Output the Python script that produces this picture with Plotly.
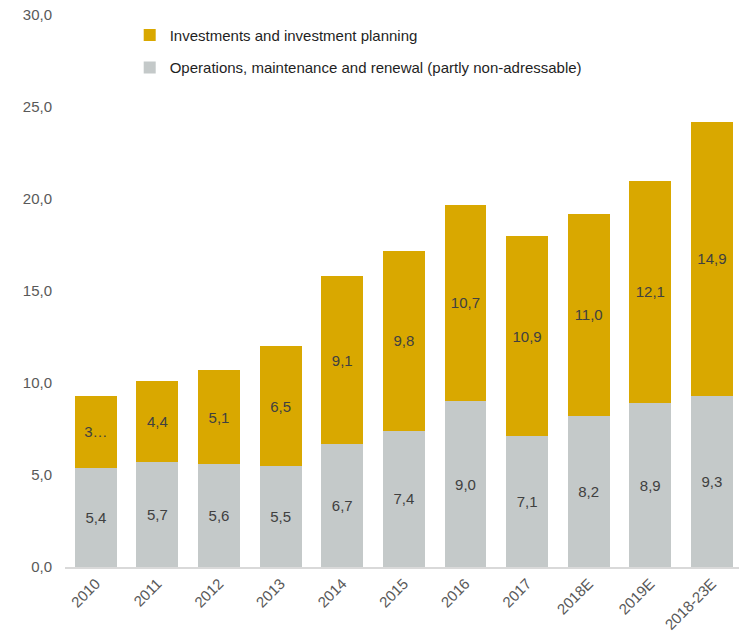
import plotly.graph_objects as go

categories = ["2010", "2011", "2012", "2013", "2014", "2015", "2016", "2017", "2018E", "2019E", "2018-23E"]
operations = [5.4, 5.7, 5.6, 5.5, 6.7, 7.4, 9.0, 7.1, 8.2, 8.9, 9.3]
investments = [3.9, 4.4, 5.1, 6.5, 9.1, 9.8, 10.7, 10.9, 11.0, 12.1, 14.9]

def fmt(v):
    return f"{v:.1f}".replace(".", ",")

ops_text = [fmt(v) for v in operations]
inv_text = [fmt(v) for v in investments]
inv_text[0] = "3…"  # truncated label in the original

GOLD = "#D9A800"
GRAY = "#C4C9C9"
TXT = "#404040"

fig = go.Figure()
fig.add_trace(go.Bar(
    x=categories, y=operations, name="Operations, maintenance and renewal (partly non-adressable)",
    marker=dict(color=GRAY, line=dict(width=0)),
    text=ops_text, textposition="inside", insidetextanchor="middle", textangle=0,
    textfont=dict(color=TXT, size=15, family="Liberation Sans, Arial, sans-serif"),
    legendgroup="b", legendrank=2, hoverinfo="skip",
))
fig.add_trace(go.Bar(
    x=categories, y=investments, name="Investments and investment planning",
    marker=dict(color=GOLD, line=dict(width=0)),
    text=inv_text, textposition="inside", insidetextanchor="middle", textangle=0,
    textfont=dict(color=TXT, size=15, family="Liberation Sans, Arial, sans-serif"),
    legendgroup="a", legendrank=1, hoverinfo="skip",
))

fig.update_layout(
    width=739, height=635,
    margin=dict(l=65, r=0, t=15, b=68),
    barmode="stack", bargap=0.32,
    plot_bgcolor="white", paper_bgcolor="white",
    separators=",.",
    font=dict(family="Liberation Sans, Arial, sans-serif", size=15, color="#595959"),
    uniformtext=dict(minsize=8, mode="show"),
    legend=dict(
        x=0.096, y=0.993, xanchor="left", yanchor="top",
        font=dict(size=15, color="#1f1f1f"),
        tracegroupgap=10, itemwidth=30,
        bgcolor="rgba(0,0,0,0)",
    ),
    showlegend=True,
)
fig.update_xaxes(
    range=[-0.5, 10.44], showgrid=False, tickangle=-45,
    showline=True, linecolor="#D9D9D9", linewidth=2,
    ticks="", tickfont=dict(size=15, color="#595959"),
)
fig.update_yaxes(
    range=[0, 30], dtick=5, tickformat=".1f", showgrid=False,
    showline=False, zeroline=False, ticks="",
    tickfont=dict(size=15, color="#595959"), ticklabelstandoff=12,
)

fig.write_html("out.html")
